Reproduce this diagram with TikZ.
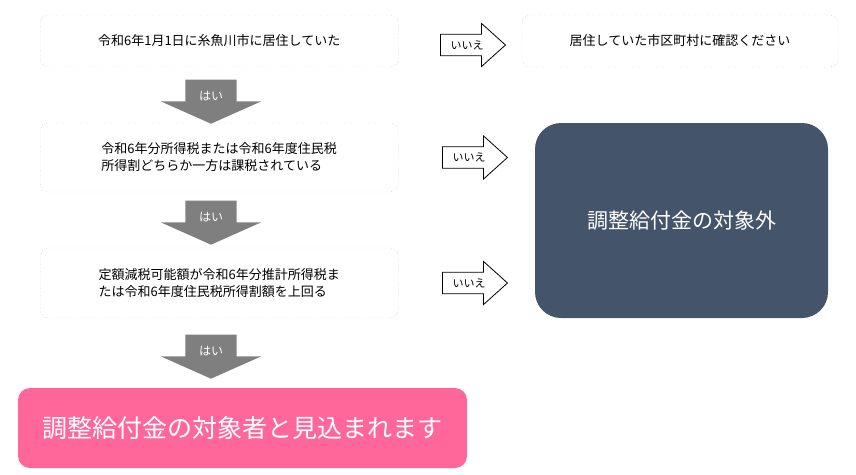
\documentclass[tikz,border=0pt]{standalone}
\usepackage{fontspec}
\setmainfont{Noto Sans CJK JP}
\usetikzlibrary{positioning, shapes.arrows}
\definecolor{navybox}{HTML}{44546A}
\definecolor{pinkbox}{HTML}{FF6699}
\definecolor{grayarr}{HTML}{7F7F7F}
\tikzset{
  step box/.style={draw=gray!70, dotted, rounded corners=8pt, align=left, font=\fontsize{13}{17}\selectfont, inner xsep=12pt, anchor=west},
  yes arrow/.style={single arrow, fill=grayarr, text=white, shape border rotate=270, minimum width=100pt, minimum height=44pt, single arrow head extend=24pt, single arrow tip angle=132, inner xsep=13pt, inner ysep=2pt, font=\fontsize{12}{12}\selectfont},
  no arrow/.style={single arrow, draw=black, thick, fill=white, minimum width=43pt, minimum height=65pt, single arrow head extend=9pt, single arrow tip angle=84, inner ysep=4pt, inner xsep=2pt, font=\fontsize{11}{11}\selectfont}
}
\begin{document}
\begin{tikzpicture}[x=1pt,y=-1pt]
\useasboundingbox (0,0) rectangle (856,474);

% 判定ボックス
\node[step box, minimum width=358pt, minimum height=52pt] (q1) at (40,41) {令和6年1月1日に糸魚川市に居住していた};
\node[step box, minimum width=358pt, minimum height=69pt] (q2) at (40,157.5) {令和6年分所得税または令和6年度住民税\\所得割どちらか一方は課税されている};
\node[step box, minimum width=358pt, minimum height=70pt] (q3) at (40,283) {定額減税可能額が令和6年分推計所得税ま\\たは令和6年度住民税所得割額を上回る};
\node[step box, minimum width=316pt, minimum height=52pt, align=center, anchor=center] (other) at (680,41) {居住していた市区町村に確認ください};

% 結果
\node[fill=navybox, rounded corners=26pt, minimum width=293pt, minimum height=195pt, text=white, font=\fontsize{21}{21}\selectfont] (out) at (681.5,220.5) {調整給付金の対象外};
\node[fill=pinkbox, rounded corners=12pt, minimum width=449pt, minimum height=80pt, text=white, font=\fontsize{25}{25}\selectfont] (target) at (242.5,428) {調整給付金の対象者と見込まれます};

% はい
\node[yes arrow] (h1) at (211,96) {はい};
\node[yes arrow] (h2) at (211,217) {はい};
\node[yes arrow] (h3) at (211,351) {はい};

% いいえ
\node[no arrow] (n1) at (467,45) {いいえ};
\node[no arrow] (n2) at (469,157.5) {いいえ};
\node[no arrow] (n3) at (469,283) {いいえ};
\end{tikzpicture}
\end{document}
